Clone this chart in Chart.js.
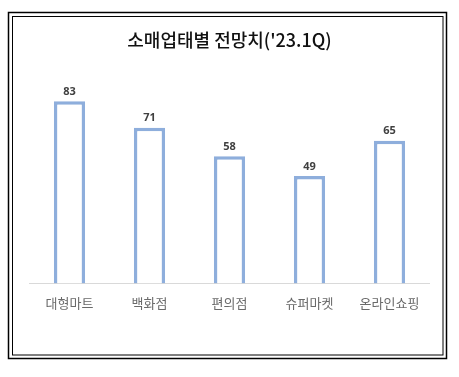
<!DOCTYPE html>
<html>
<head>
<meta charset="utf-8">
<script src="https://cdn.jsdelivr.net/npm/chart.js@4"></script>
<style>
html,body{margin:0;padding:0;background:#fff;}
#wrap{position:relative;width:459px;height:377px;}
</style>
</head>
<body>
<div id="wrap"><canvas id="c" width="459" height="377"></canvas></div>
<script>
const categories = ['대형마트', '백화점', '편의점', '슈퍼마켓', '온라인쇼핑'];
const values = [83, 71, 58, 49, 65];
const titleText = "소매업태별 전망치('23.1Q)";

const framePlugin = {
  id: 'frame',
  afterDraw(chart) {
    const ctx = chart.ctx;
    ctx.save();
    ctx.strokeStyle = '#000';
    ctx.lineWidth = 1.5;
    ctx.strokeRect(8.5, 12.5, 438, 346);
    ctx.lineWidth = 1;
    ctx.strokeRect(12.5, 16.5, 430.5, 338.5);
    ctx.restore();
  }
};

const labelPlugin = {
  id: 'valueLabels',
  afterDatasetsDraw(chart) {
    const ctx = chart.ctx;
    const meta = chart.getDatasetMeta(0);
    ctx.save();
    ctx.font = 'bold 11px "Open Sans", "DejaVu Sans", sans-serif';
    ctx.fillStyle = '#404040';
    ctx.textAlign = 'center';
    ctx.textBaseline = 'bottom';
    meta.data.forEach((bar, i) => {
      ctx.fillText(String(values[i]), bar.x, bar.y - 4);
    });
    ctx.restore();
  }
};

new Chart(document.getElementById('c'), {
  type: 'bar',
  data: {
    labels: categories,
    datasets: [{
      data: values,
      backgroundColor: '#ffffff',
      borderColor: '#8eaedc',
      borderWidth: 3.5,
      borderSkipped: 'bottom',
      barPercentage: 0.39,
      categoryPercentage: 1.0
    }]
  },
  options: {
    responsive: false,
    animation: false,
    layout: { padding: { left: 29.5, right: 29.5, top: 0, bottom: 62 } },
    plugins: {
      legend: { display: false },
      tooltip: { enabled: false },
      title: {
        display: true,
        text: titleText,
        color: '#111',
        font: { family: '"Noto Sans CJK KR", sans-serif', size: 18, weight: '500' },
        padding: { top: 29, bottom: 35.4 }
      }
    },
    scales: {
      x: {
        grid: { display: false },
        border: { display: true, color: '#d9d9d9', width: 1 },
        ticks: {
          color: '#6a6a6a',
          padding: 4,
          font: { family: '"Noto Sans CJK KR", sans-serif', size: 13 }
        }
      },
      y: {
        display: false,
        min: 0,
        max: 90
      }
    }
  },
  plugins: [framePlugin, labelPlugin]
});
</script>
</body>
</html>
